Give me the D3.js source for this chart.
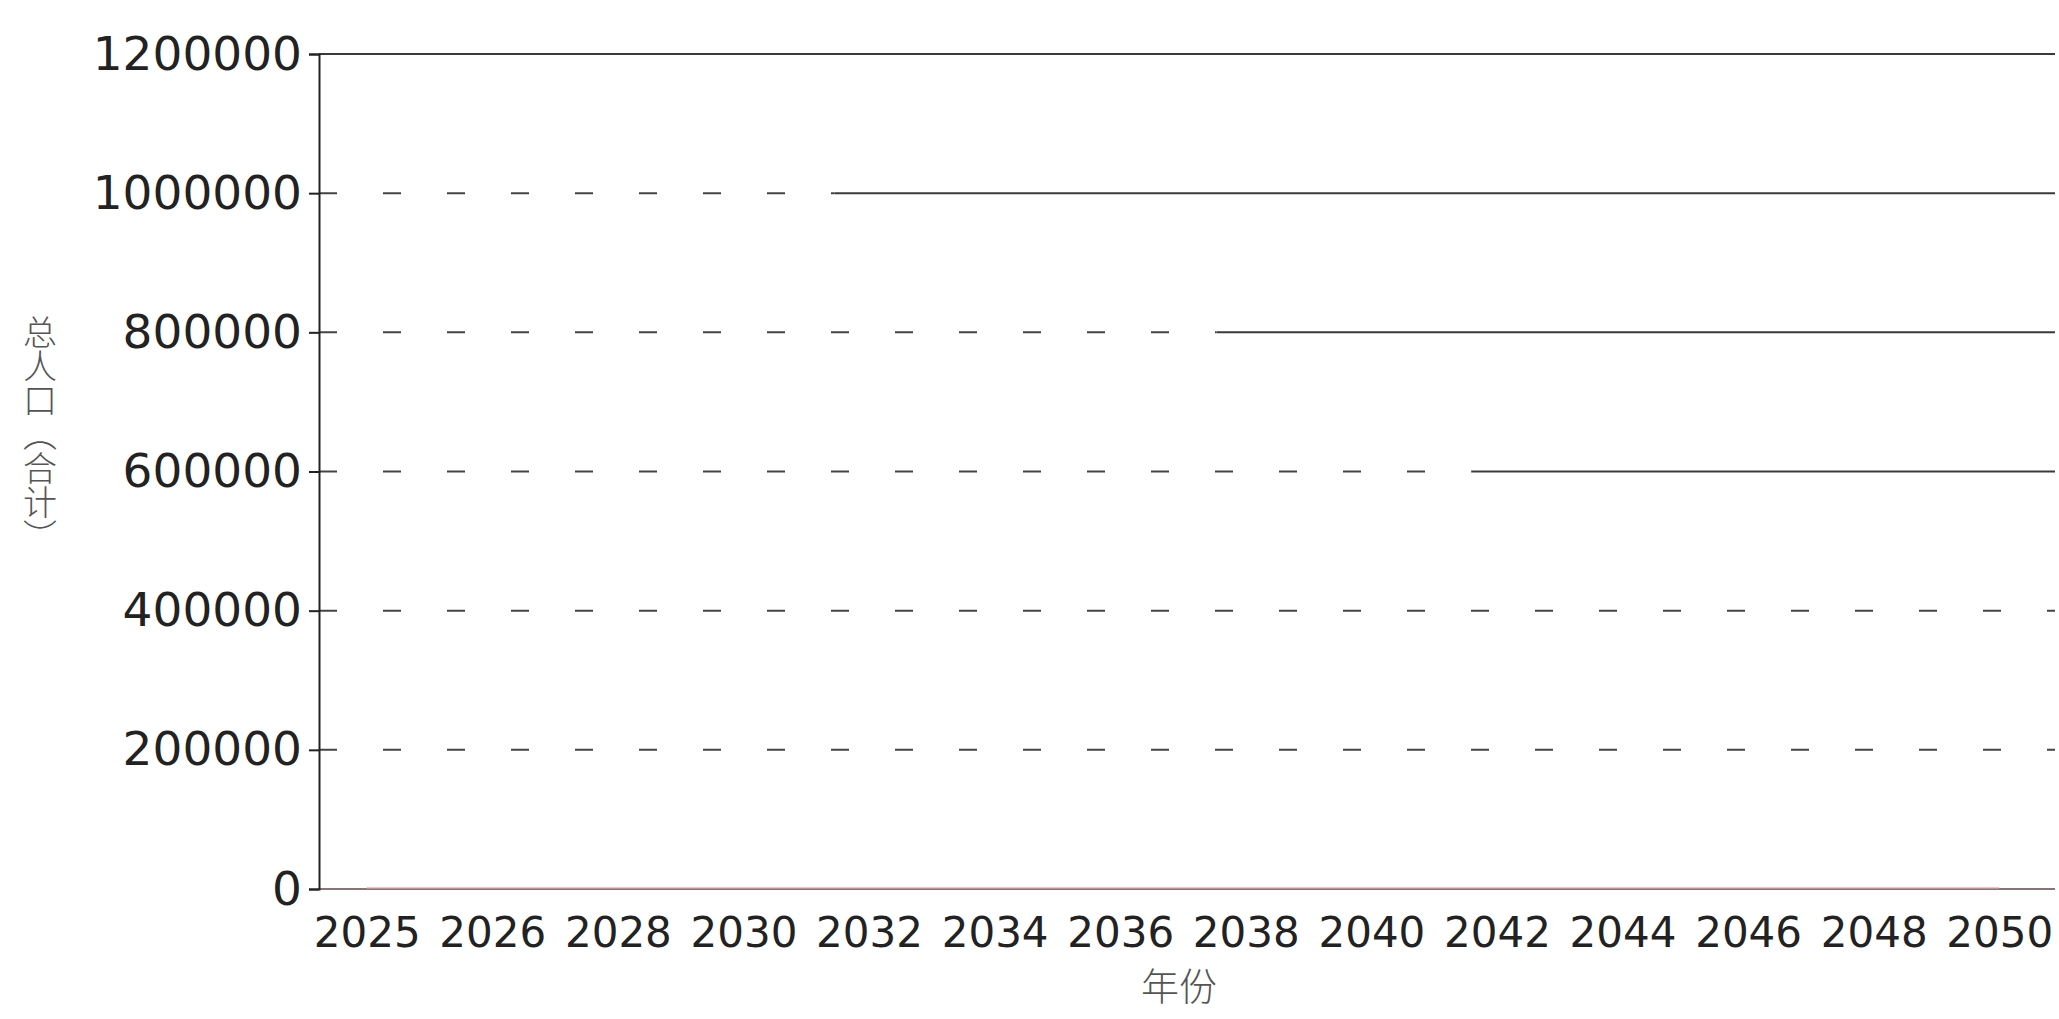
<!DOCTYPE html>
<html>
<head>
<meta charset="utf-8">
<script src="https://cdn.jsdelivr.net/npm/d3@7"></script>
<style>
  html, body { margin: 0; padding: 0; background: #fff; }
  svg { display: block; }
</style>
</head>
<body>
<svg id="chart"></svg>
<script>
// categories (x axis) and the total population series
const years = ["2025", "2026", "2028", "2030", "2032", "2034", "2036", "2038", "2040", "2042", "2044", "2046", "2048", "2050"];
const population = [1412, 1410, 1405, 1399, 1392, 1384, 1375, 1365, 1354, 1342, 1330, 1317, 1303, 1289];
const yTicks = [0, 200000, 400000, 600000, 800000, 1000000, 1200000];

const yTitle = "总人口（合计）";
const xTitle = "年份";

const width = 2059;
const height = 1019;
const margin = { top: 54, right: 4, bottom: 130, left: 319 };

const svg = d3.select("#chart")
    .attr("width", width)
    .attr("height", height);

const plotW = width - margin.left - margin.right;
const plotH = height - margin.top - margin.bottom;

const g = svg.append("g")
    .attr("transform", `translate(${margin.left},${margin.top})`);

const x = d3.scalePoint()
    .domain(years)
    .range([0, plotW - 8])
    .padding(0.38);

const y = d3.scaleLinear()
    .domain([0, 1200000])
    .range([plotH, 0]);

// where the gridline stops being dashed (fraction of plot width), as printed
const solidFrom = new Map([[1200000, 0], [1000000, 0.297], [800000, 0.517], [600000, 0.664]]);

// gridlines
const grid = g.append("g").attr("class", "grid");
yTicks.filter(t => t > 0).forEach(t => {
    const start = solidFrom.has(t) ? solidFrom.get(t) * plotW : plotW;
    if (start > 0) {
        grid.append("line")
            .attr("x1", 0).attr("x2", start)
            .attr("y1", y(t)).attr("y2", y(t))
            .attr("stroke", "#444")
            .attr("stroke-width", 2)
            .attr("stroke-dasharray", "18,46");
    }
    if (start < plotW) {
        grid.append("line")
            .attr("x1", start).attr("x2", plotW)
            .attr("y1", y(t)).attr("y2", y(t))
            .attr("stroke", "#3a3a3a")
            .attr("stroke-width", 2);
    }
});

// x axis (labels only)
const xAxis = g.append("g")
    .attr("transform", `translate(0,${plotH})`)
    .call(d3.axisBottom(x).tickSize(0).tickPadding(28));
xAxis.select(".domain").attr("stroke", "#8a7476").attr("stroke-width", 2)
    .attr("d", `M0,0H${plotW}`);
xAxis.selectAll("text")
    .attr("font-family", "DejaVu Sans")
    .attr("font-size", 42)
    .attr("fill", "#222");

// y axis
const yAxis = g.append("g")
    .call(d3.axisLeft(y).tickValues(yTicks).tickFormat(d3.format("d")).tickSize(10).tickPadding(7));
yAxis.select(".domain").attr("stroke", "#222").attr("stroke-width", 2);
yAxis.selectAll(".tick line").attr("stroke", "#222").attr("stroke-width", 2);
yAxis.selectAll("text")
    .attr("font-family", "DejaVu Sans")
    .attr("font-size", 47)
    .attr("fill", "#222");

// series line (sits on the baseline at this scale)
const line = d3.line()
    .x((d, i) => x(years[i]))
    .y(d => y(d));

g.append("path")
    .datum(population)
    .attr("fill", "none")
    .attr("stroke", "#e8a0a8")
    .attr("stroke-opacity", 0.6)
    .attr("stroke-width", 2)
    .attr("d", line);

// axis titles
svg.append("text")
    .attr("x", 40)
    .attr("y", 434)
    .attr("text-anchor", "middle")
    .style("writing-mode", "vertical-rl")
    .style("text-orientation", "upright")
    .attr("font-family", "Noto Sans CJK SC")
    .attr("font-weight", 300)
    .attr("font-size", 34)
    .attr("fill", "#555")
    .text(yTitle);

svg.append("text")
    .attr("x", margin.left + plotW / 2 - 8)
    .attr("y", 1000)
    .attr("text-anchor", "middle")
    .attr("font-family", "Noto Sans CJK SC")
    .attr("font-weight", 300)
    .attr("font-size", 38)
    .attr("fill", "#555")
    .text(xTitle);
</script>
</body>
</html>
